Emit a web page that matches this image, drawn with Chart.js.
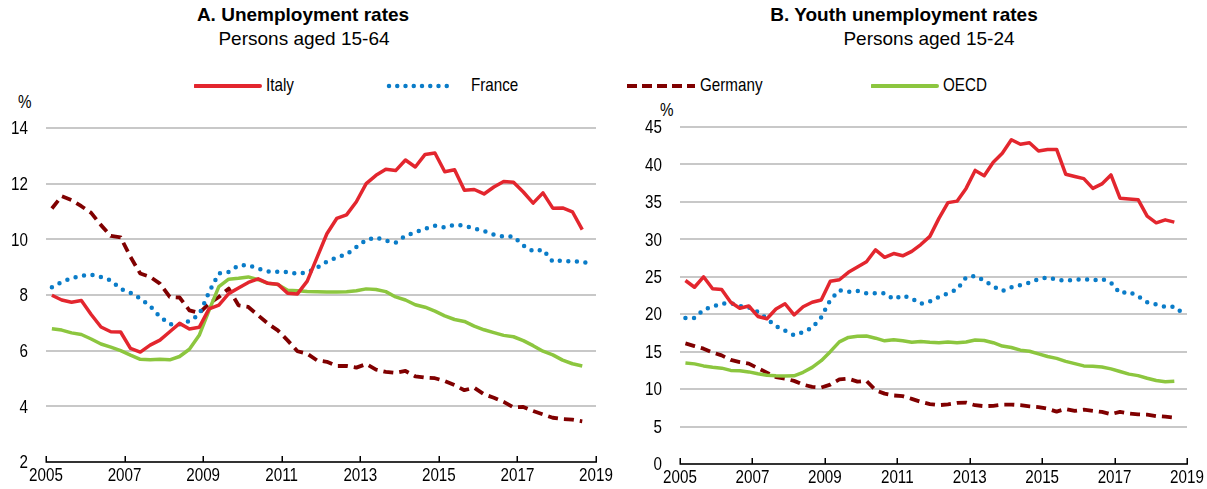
<!DOCTYPE html>
<html>
<head>
<meta charset="utf-8">
<script src="https://cdn.jsdelivr.net/npm/chart.js@4/dist/chart.umd.min.js"></script>
<style>
    body { margin: 0; background: #fff; width: 1207px; height: 489px; position: relative; overflow: hidden; }
    .title, .sub, .legend-text, .pct { position: absolute; white-space: nowrap; color: #000; }
    .title { font: bold 19px 'Liberation Sans', Arial, sans-serif; transform: translateX(-50%); }
    .sub { font: 19px 'Liberation Sans', Arial, sans-serif; transform: translateX(-50%); }
    /* the original uses a narrow face for legend and axis text */
    .legend-text, .pct { font: 19px 'Liberation Sans', Arial, sans-serif; transform: scaleX(0.8); transform-origin: 0 50%; }
    .legend-line { position: absolute; }
    .box { position: absolute; top: 0; height: 489px; }
</style>
</head>
<body>
<div class="title" style="left:303px; top:4px;">A. Unemployment rates</div>
<div class="sub" style="left:304px; top:28px;">Persons aged 15-64</div>
<div class="title" style="left:904px; top:4px;">B. Youth unemployment rates</div>
<div class="sub" style="left:929px; top:28px;">Persons aged 15-24</div>

<!-- legend -->
<svg class="legend-line" style="left:194px; top:80px;" width="68" height="12"><line x1="1" y1="6" x2="66" y2="6" stroke="#e3262e" stroke-width="4" stroke-linecap="round"/></svg>
<div class="legend-text" style="left:266px; top:74px;">Italy</div>
<svg class="legend-line" style="left:386px; top:80px;" width="72" height="12"><line x1="3" y1="6" x2="69" y2="6" stroke="#0a7cc8" stroke-width="4.5" stroke-linecap="round" stroke-dasharray="0 8.25"/></svg>
<div class="legend-text" style="left:471px; top:74px;">France</div>
<svg class="legend-line" style="left:627px; top:80px;" width="70" height="12"><line x1="0" y1="6" x2="68" y2="6" stroke="#800000" stroke-width="4" stroke-dasharray="10 5"/></svg>
<div class="legend-text" style="left:700px; top:74px;">Germany</div>
<svg class="legend-line" style="left:871px; top:80px;" width="68" height="12"><line x1="1" y1="6" x2="66" y2="6" stroke="#8cc63f" stroke-width="4" stroke-linecap="round"/></svg>
<div class="legend-text" style="left:943px; top:74px;">OECD</div>

<div class="pct" style="left:18px; top:91px;">%</div>
<div class="pct" style="left:660px; top:99px;">%</div>

<div class="box" style="left:0; width:625px;"><canvas id="chartA"></canvas></div>
<div class="box" style="left:610px; width:597px;"><canvas id="chartB"></canvas></div>

<script>
// Quarterly observations, 2005Q1 onwards
const years = [2005, 2006, 2007, 2008, 2009, 2010, 2011, 2012, 2013, 2014, 2015, 2016, 2017, 2018];
const quarters = [];
years.forEach(y => { for (let q = 1; q <= 4; q++) quarters.push(y + 'Q' + q); });

const xTicks = [2005, 2007, 2009, 2011, 2013, 2015, 2017, 2019];

// Panel A: unemployment rates, persons aged 15-64 (%)
const italyA = [7.99, 7.82, 7.74, 7.8, 7.3, 6.85, 6.68, 6.67, 6.08, 5.95,
    6.2, 6.38, 6.68, 6.98, 6.78, 6.84, 7.5, 7.64, 8.05, 8.25,
    8.45, 8.58, 8.42, 8.39, 8.06, 8.04, 8.5, 9.35, 10.2, 10.75,
    10.88, 11.35, 12.0, 12.3, 12.52, 12.47, 12.85, 12.6, 13.05, 13.1,
    12.43, 12.5, 11.76, 11.79, 11.63, 11.88, 12.08, 12.05, 11.7, 11.3,
    11.67, 11.12, 11.13, 10.99, 10.35];
const franceA = [8.28, 8.47, 8.6, 8.69, 8.73, 8.65, 8.52, 8.22, 8.08, 7.87,
    7.6, 7.22, 6.95, 6.95, 7.06, 7.3, 8.1, 8.78, 8.83, 9.06,
    9.07, 8.95, 8.85, 8.83, 8.83, 8.76, 8.81, 8.98, 9.2, 9.35,
    9.46, 9.72, 9.98, 10.07, 9.95, 9.88, 10.13, 10.25, 10.38, 10.49,
    10.43, 10.52, 10.49, 10.39, 10.3, 10.17, 10.1, 10.1, 9.78, 9.57,
    9.63, 9.2, 9.24, 9.2, 9.2, 9.1];
const germanyA = [11.11, 11.55, 11.41, 11.19, 10.95, 10.51, 10.12, 10.07, 9.37, 8.77,
    8.65, 8.41, 7.93, 7.91, 7.45, 7.35, 7.69, 7.93, 8.23, 7.63,
    7.57, 7.27, 6.97, 6.73, 6.37, 5.98, 5.89, 5.65, 5.6, 5.45,
    5.45, 5.39, 5.52, 5.32, 5.24, 5.2, 5.27, 5.08, 5.03, 5.01,
    4.91, 4.76, 4.58, 4.67, 4.43, 4.31, 4.16, 3.96, 3.98, 3.83,
    3.71, 3.59, 3.54, 3.52, 3.46];
const oecdA = [6.79, 6.74, 6.64, 6.58, 6.42, 6.24, 6.13, 6.0, 5.84, 5.69,
    5.67, 5.69, 5.67, 5.79, 6.05, 6.55, 7.45, 8.3, 8.57, 8.6,
    8.65, 8.55, 8.42, 8.38, 8.17, 8.15, 8.13, 8.12, 8.11, 8.11,
    8.12, 8.15, 8.22, 8.2, 8.12, 7.93, 7.82, 7.65, 7.56, 7.42,
    7.25, 7.12, 7.05, 6.88, 6.75, 6.65, 6.55, 6.5, 6.36, 6.18,
    5.98, 5.85, 5.66, 5.53, 5.45];

// Panel B: youth unemployment rates, persons aged 15-24 (%)
const italyB = [24.5, 23.6, 25.0, 23.4, 23.3, 21.6, 20.8, 21.1, 19.7, 19.4,
    20.7, 21.4, 19.9, 21.0, 21.6, 21.9, 24.4, 24.6, 25.6, 26.3,
    27.0, 28.6, 27.6, 28.1, 27.8, 28.4, 29.3, 30.4, 32.8, 34.9,
    35.1, 36.8, 39.2, 38.5, 40.3, 41.5, 43.3, 42.7, 42.9, 41.8,
    42.0, 42.0, 38.7, 38.4, 38.1, 36.8, 37.4, 38.6, 35.5, 35.4,
    35.3, 33.1, 32.2, 32.6, 32.3];
const franceB = [19.5, 19.5, 20.6, 21.0, 21.4, 21.5, 21.1, 20.9, 20.3, 19.4,
    18.4, 17.8, 17.2, 17.6, 18.2, 19.6, 21.9, 23.2, 23.0, 23.1,
    22.8, 22.8, 22.8, 22.0, 22.5, 22.1, 21.4, 21.7, 22.3, 22.8,
    23.3, 24.9, 25.1, 24.5, 23.7, 23.1, 23.6, 23.9, 24.2, 24.7,
    24.9, 24.6, 24.5, 24.6, 24.7, 24.5, 24.7, 24.2, 22.8, 23.0,
    22.4, 21.6, 21.3, 21.0, 21.0, 20.1];
const germanyB = [16.1, 15.75, 15.4, 14.9, 14.5, 13.9, 13.6, 13.4, 12.8, 12.2,
    11.6, 11.4, 11.1, 10.6, 10.3, 10.2, 10.6, 11.3, 11.4, 11.0,
    11.1, 9.85, 9.4, 9.15, 9.06, 8.7, 8.3, 8.0, 7.86, 7.95,
    8.15, 8.2, 7.85, 7.72, 7.77, 7.93, 7.94, 7.85, 7.7, 7.6,
    7.38, 7.0, 7.35, 7.1, 7.25, 7.1, 6.95, 6.65, 6.97, 6.75,
    6.63, 6.6, 6.4, 6.32, 6.2];
const oecdB = [13.5, 13.37, 13.1, 12.93, 12.8, 12.5, 12.44, 12.3, 12.05, 11.85,
    11.78, 11.75, 11.78, 12.25, 12.9, 13.8, 15.0, 16.3, 16.9, 17.05,
    17.1, 16.8, 16.45, 16.58, 16.45, 16.25, 16.35, 16.25, 16.2, 16.3,
    16.2, 16.3, 16.55, 16.5, 16.2, 15.75, 15.55, 15.2, 15.06, 14.7,
    14.35, 14.1, 13.7, 13.4, 13.1, 13.06, 12.95, 12.7, 12.35, 12.0,
    11.8, 11.45, 11.15, 10.97, 11.05];

const LABEL_FONT = "19px 'Liberation Sans', Arial, sans-serif";
const NARROW_SCALE = 0.8;

// place each quarter inside its year on the linear axis
function toPoints(values) {
    return values.map((v, i) => {
        const [y, q] = quarters[i].split('Q').map(Number);
        return { x: y + (q - 0.4) / 4, y: v };
    });
}

// black x axis with short ticks pointing up into the plot
const innerTicks = {
    id: 'innerTicks',
    afterDraw(chart) {
        const { ctx, chartArea, scales: { x } } = chart;
        ctx.save();
        ctx.strokeStyle = '#000';
        ctx.lineWidth = 1.5;
        ctx.beginPath();
        ctx.moveTo(chartArea.left, chartArea.bottom);
        ctx.lineTo(chartArea.right, chartArea.bottom);
        x.ticks.forEach(t => {
            const px = Math.round(x.getPixelForValue(t.value)) + 0.25;
            ctx.moveTo(px, chartArea.bottom + 0.75);
            ctx.lineTo(px, chartArea.bottom - 6);
        });
        ctx.stroke();
        ctx.restore();
    }
};

// tick labels drawn squeezed horizontally, to imitate the narrow face
const narrowLabels = {
    id: 'narrowLabels',
    afterDraw(chart) {
        const { ctx, chartArea, scales: { x, y } } = chart;
        ctx.save();
        ctx.font = LABEL_FONT;
        ctx.fillStyle = '#000';
        ctx.textBaseline = 'middle';
        ctx.textAlign = 'right';
        y.ticks.forEach(t => {
            ctx.save();
            ctx.translate(chartArea.left - 18, y.getPixelForValue(t.value) + 1);
            ctx.scale(NARROW_SCALE, 1);
            ctx.fillText(String(t.value), 0, 0);
            ctx.restore();
        });
        ctx.textAlign = 'center';
        x.ticks.forEach(t => {
            ctx.save();
            ctx.translate(x.getPixelForValue(t.value), chartArea.bottom + 14);
            ctx.scale(NARROW_SCALE, 1);
            ctx.fillText(String(t.value), 0, 0);
            ctx.restore();
        });
        ctx.restore();
    }
};

function makeChart(id, series, yMin, yMax, yStep, opts) {
    const styles = [
        { borderColor: '#e3262e', borderWidth: 3.5 },
        { borderColor: '#0a7cc8', borderWidth: 4.5, borderDash: [0, 8.6], borderCapStyle: 'round' },
        { borderColor: '#800000', borderWidth: 3.8, borderDash: [10, 6] },
        { borderColor: '#8cc63f', borderWidth: 3.5 }
    ];
    const names = ['Italy', 'France', 'Germany', 'OECD'];
    // draw OECD and Germany under Italy / France like the original
    const order = [0, 1, 3, 2];

    return new Chart(document.getElementById(id), {
        type: 'line',
        data: {
            datasets: series.map((s, i) => Object.assign({
                label: names[i],
                data: toPoints(s),
                pointRadius: 0,
                tension: 0,
                fill: false,
                order: order[i],
                borderJoinStyle: 'round'
            }, styles[i]))
        },
        options: {
            responsive: true,
            maintainAspectRatio: false,
            animation: false,
            layout: { padding: opts.padding },
            plugins: { legend: { display: false }, tooltip: { enabled: false } },
            scales: {
                x: {
                    type: 'linear',
                    min: 2005,
                    max: 2019,
                    afterBuildTicks: s => { s.ticks = xTicks.map(v => ({ value: v })); },
                    afterFit: s => { s.height = opts.xHeight; },
                    grid: { display: false },
                    border: { display: false },
                    ticks: { display: false }
                },
                y: {
                    min: yMin,
                    max: yMax,
                    afterFit: s => { s.width = opts.yWidth; },
                    grid: { color: '#c8c8c8', lineWidth: 2, drawTicks: false },
                    border: { display: false },
                    ticks: { display: false, stepSize: yStep }
                }
            }
        },
        plugins: [innerTicks, narrowLabels]
    });
}

makeChart('chartA', [italyA, franceA, germanyA, oecdA], 2, 14, 2,
    { padding: { top: 128, right: 29, left: 0, bottom: 0 }, xHeight: 27, yWidth: 46 });
makeChart('chartB', [italyB, franceB, germanyB, oecdB], 0, 45, 5,
    { padding: { top: 127, right: 20, left: 0, bottom: 0 }, xHeight: 25, yWidth: 70 });
</script>
</body>
</html>
